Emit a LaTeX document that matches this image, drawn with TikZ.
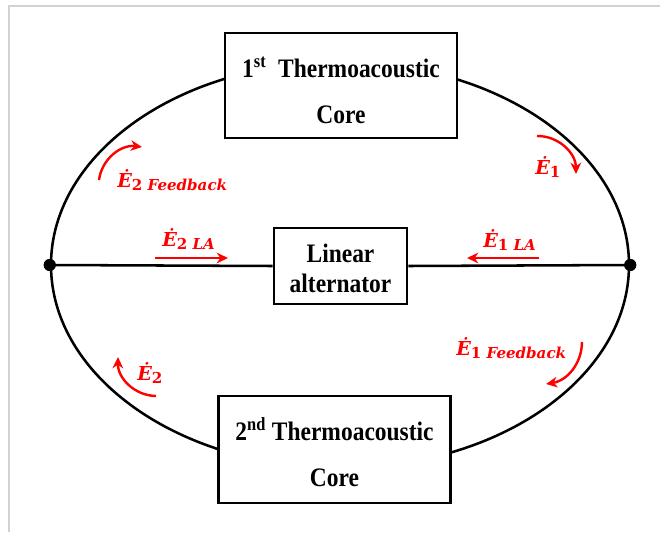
\documentclass[tikz,border=0pt]{standalone}
\usepackage{fontspec}
\setmainfont{Liberation Serif}[FakeStretch=0.88]
\newfontfamily\labelfont{DejaVu Serif}
\usetikzlibrary{shapes.geometric,arrows.meta}

% power flow label: E-dot with a lowered subscript
\newcommand{\eflow}[2]{\.{E}\raisebox{-2.5pt}{\fontsize{11.3}{11.3}\selectfont\upshape#1\ \itshape#2}}

\begin{document}
\begin{tikzpicture}[
    x=0.75pt, y=-0.75pt,
    loop_line/.style={ellipse, draw, line width=1.9pt, minimum width=433.5pt, minimum height=304.5pt, inner sep=0pt},
    core_box/.style={rectangle, draw, fill=white, line width=1.9pt, minimum width=174pt, minimum height=79pt, align=center, font=\bfseries\fontsize{20}{34}\selectfont},
    la_box/.style={rectangle, draw, fill=white, line width=1.9pt, minimum width=100pt, minimum height=57pt, align=center, font=\bfseries\fontsize{20}{22.5}\selectfont},
    junction/.style={circle, fill=black, minimum size=9pt, inner sep=0pt},
    flow_arrow/.style={draw, red, line width=1.8pt, -{Stealth[length=8.5pt,width=8pt]}},
    flow_label/.style={anchor=base west, inner sep=0pt, text=red, font=\labelfont\bfseries\itshape\fontsize{14.4}{14.4}\selectfont}
]
\useasboundingbox (0,0) rectangle (660,532);
\draw[gray!35, line width=1pt] (9,532) |- (660,6);

% Loop
\node[loop_line] (loop) at (340,265) {};
\node[junction] (jl) at (loop.west) {};
\node[junction] (jr) at (loop.east) {};

% Linear alternator on the middle branch
\node[la_box] (la) at (340.5,266) {\rule{0pt}{16.7pt}Linear\\alternator};
\draw[line width=1.9pt] (jl.center) -- (la.west);
\draw[line width=1.9pt] (la.east) -- (jr.center);
\node[junction] at (jl) {};
\node[junction] at (jr) {};

% Cores
\node[core_box] (core1) at (341,85.5) {\rule{0pt}{22.5pt}1\textsuperscript{st}\ \ Thermoacoustic\\Core};
\node[core_box, minimum height=80pt] (core2) at (334.5,449.5) {\rule{0pt}{21pt}2\textsuperscript{nd} Thermoacoustic\\Core};

% Power flow arrows
\coordinate (e1s) at (537,136);
\coordinate (e1t) at (576,174);
\coordinate (f2s) at (99,180);
\coordinate (f2t) at (142,147);
\coordinate (e2s) at (156,396);
\coordinate (e2t) at (118,357);
\coordinate (f1s) at (582,342);
\coordinate (f1t) at (546,384);
\coordinate (la2s) at (155,258);
\coordinate (la2t) at (228,258);
\coordinate (la1s) at (539,258);
\coordinate (la1t) at (467,258);

\draw[flow_arrow] (e1s) to[bend left=45] (e1t);
\draw[flow_arrow] (f2s) to[bend left=45] (f2t);
\draw[flow_arrow] (e2s) to[bend left=45] (e2t);
\draw[flow_arrow] (f1s) to[bend left=40] (f1t);
\draw[flow_arrow] (la2s) -- (la2t);
\draw[flow_arrow] (la1s) -- (la1t);

% Labels
\node[flow_label] (lf2) at (117,187) {\eflow{2}{Feedback}};
\node[flow_label] (lla2) at (162,246) {\eflow{2}{LA}};
\node[flow_label] (le1) at (535,174) {\eflow{1}{}};
\node[flow_label] (lla1) at (483,247) {\eflow{1}{LA}};
\node[flow_label] (le2) at (137,380) {\eflow{2}{}};
\node[flow_label] (lf1) at (456,355) {\eflow{1}{Feedback}};

\end{tikzpicture}
\end{document}
